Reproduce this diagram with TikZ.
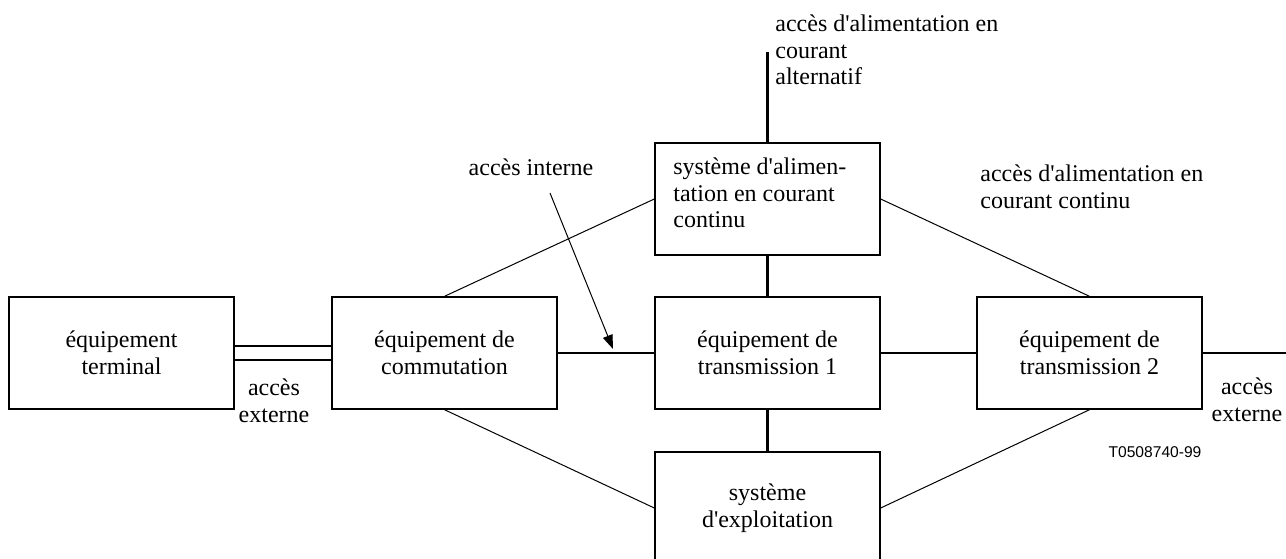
\documentclass[tikz,border=0pt]{standalone}
\usepackage{fontspec}
\setmainfont{Liberation Serif}
\newfontfamily\labsans{Liberation Sans}
\usetikzlibrary{arrows.meta,calc}
\newcommand{\apo}{\textquotesingle}
\begin{document}
\begin{tikzpicture}[x=0.5pt,y=-0.5pt,
  box/.style={draw,line width=0.7pt,minimum width=112.5pt,minimum height=56pt,inner sep=0pt,align=center,font=\fontsize{12}{13.3}\selectfont},
  lab/.style={inner sep=0pt,font=\fontsize{12}{13.3}\selectfont},
  heavy/.style={line width=1.1pt},
  light/.style={line width=0.5pt}]
\useasboundingbox (0,0) rectangle (1286,558);
% boxes
\node[box] (term) at (121.5,353) {équipement\\terminal};
\node[box] (comm) at (444.5,353) {équipement de\\commutation};
\node[box] (tr1) at (767.5,353) {équipement de\\transmission 1};
\node[box] (tr2) at (1089.5,353) {équipement de\\transmission 2};
\node[box] (pow) at (767.5,199) {};
\node[lab,align=left,anchor=west] (powtxt) at (673,193) {système d\apo alimen-\\tation en courant\\continu};
\node[box] (ops) at (767.5,508) {système\\d\apo exploitation};
% free ends
\coordinate (acin) at (767.5,52);
\coordinate (extr) at (1290,353);
\coordinate (aiS) at (550,193);
\coordinate (aiE) at (613,349);
% labels
\node[lab,align=left,anchor=west] (lac) at (775,50) {accès d\apo alimentation en\\courant\\alternatif};
\node[lab,align=left,anchor=west] (ldc) at (980,187) {accès d\apo alimentation en\\courant continu};
\node[lab] (lint) at (531,167) {accès interne};
\node[lab,align=center] (lext1) at (274,401) {accès\\externe};
\node[lab,align=center] (lext2) at (1247,400) {accès\\externe};
\node[inner sep=0pt,font=\labsans\fontsize{7.8}{9}\selectfont] (ref) at (1155,452) {T0508740-99};
% heavy connectors
\draw[heavy] ($(term.east)+(0,-7)$) -- ($(comm.west)+(0,-7)$);
\draw[heavy] ($(term.east)+(0,7)$) -- ($(comm.west)+(0,7)$);
\draw[heavy] (comm.east) -- (tr1.west);
\draw[heavy] (tr1.east) -- (tr2.west);
\draw[heavy] (tr2.east) -- (extr);
\draw[heavy] (pow.north) -- (acin);
\draw[heavy] (pow.south) -- (tr1.north);
\draw[heavy] (tr1.south) -- (ops.north);
% light connectors
\draw[light] (comm.north) -- (pow.west);
\draw[light] (pow.east) -- (tr2.north);
\draw[light] (comm.south) -- (ops.west);
\draw[light] (ops.east) -- (tr2.south);
\draw[light,-{Triangle[length=7pt,width=5pt]}] (aiS) -- (aiE);
\end{tikzpicture}
\end{document}
